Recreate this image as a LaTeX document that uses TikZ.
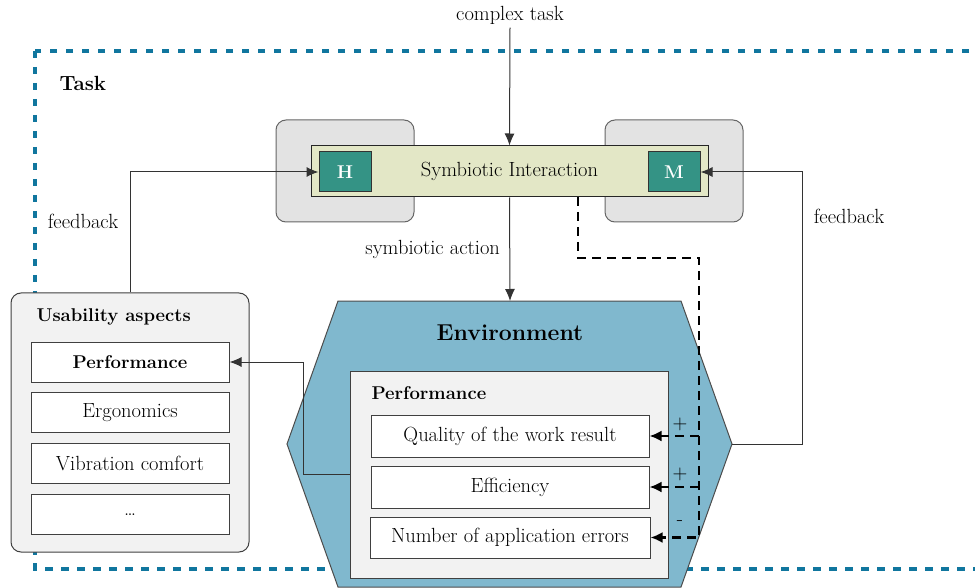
\documentclass[tikz,border=0pt]{standalone}
\usepackage{fontspec}
\usepackage{tikz}
\usetikzlibrary{arrows.meta,calc}
\definecolor{taskblue}{RGB}{16,118,158}
\definecolor{hmteal}{RGB}{52,147,133}
\definecolor{sifill}{RGB}{227,231,198}
\definecolor{envfill}{RGB}{128,184,206}
\definecolor{agentgray}{RGB}{227,227,227}
\definecolor{boxgray}{RGB}{242,242,242}
\tikzset{
  every node/.style={font=\fontsize{20.5}{24}\selectfont},
  head/.style={font=\fontsize{18.5}{22}\selectfont\bfseries},
  conn/.style={line width=1pt,draw=black!80,-{Latex[length=12pt,width=10pt]}},
  fbdash/.style={line width=2.5pt,dash pattern=on 9pt off 6pt,-{Latex[length=12pt,width=11pt]}},
  taskframe/.style={draw=taskblue,line width=3.5pt,dash pattern=on 7.5pt off 8.5pt},
  agentbg/.style={draw=black!60,fill=agentgray,line width=1pt,rounded corners=10pt,minimum width=138pt,minimum height=102pt,inner sep=0pt},
  sibox/.style={draw=black!85,fill=sifill,line width=1pt,minimum width=397pt,minimum height=51pt,inner sep=0pt},
  agent/.style={draw=black!80,fill=hmteal,text=white,line width=1pt,minimum width=52pt,minimum height=40pt,inner sep=0pt,font=\fontsize{18.5}{22}\selectfont\bfseries},
  envshape/.style={draw=black!70,fill=envfill,line width=1pt},
  groupbox/.style={draw=black!75,fill=boxgray,line width=1pt,inner sep=0pt},
  item/.style={draw=black!75,fill=white,line width=1pt,minimum height=42pt,inner sep=0pt}
}
\begin{document}
\begin{tikzpicture}[x=1pt,y=-1pt]
\useasboundingbox (0,0) rectangle (975,588);
%task frame
\draw[taskframe] (35,51) rectangle (1000,569);
\node[anchor=west,font=\fontsize{20.5}{24}\selectfont\bfseries] (task) at (56,83) {Task};
%symbiotic interaction
\node[agentbg] (hbg) at (345,171) {};
\node[agentbg] (mbg) at (674,171) {};
\node[sibox] (si) at (509.5,171.5) {Symbiotic Interaction};
\node[agent] (h) at (345,172) {H};
\node[agent] (m) at (674,172) {M};
%environment
\draw[envshape] (338,301)--(681,301)--(732,444)--(681,587)--(338,587)--(287,444)--cycle;
\coordinate (envN) at (510,301);
\coordinate (envE) at (732,444);
\node[font=\fontsize{23}{27}\selectfont\bfseries] (env) at (510,333) {Environment};
\node[groupbox,minimum width=318pt,minimum height=207pt] (perf) at (509,474.5) {};
\node[head,anchor=west] (perfhead) at (368,393) {Performance};
\node[item,minimum width=278pt] (qual) at (510,436) {Quality of the work result};
\node[item,minimum width=278pt] (eff) at (510,487) {Efficiency};
\node[item,minimum width=280pt,minimum height=41pt] (err) at (510,537.5) {Number of application errors};
%usability aspects
\node[groupbox,rounded corners=10pt,minimum width=238pt,minimum height=259pt] (usab) at (130,422.5) {};
\node[head,anchor=west] (usabhead) at (33,317) {Usability aspects};
\foreach \n/\y/\t in {uperf/362/{\fontsize{18.5}{22}\selectfont\bfseries Performance},uerg/412.5/Ergonomics,uvib/463.5/Vibration comfort,umore/514.5/{\ldots}}{
\node[item,minimum width=198pt,minimum height=40pt] (\n) at (130,\y) {\t};
}
%connectors
\node (ct) at (510,15) {complex task};
\draw[conn] (ct.south)--(si.north);
\draw[conn] (si.south)--(envN) node[midway,left=6pt] (salabel) {symbiotic action};
\node (fbltext) at (83,221) {feedback};
\draw[conn] (usab.north) |- (h.west);
\coordinate (fbr) at (802,172);
\node (fbrtext) at (849,216) {feedback};
\draw[conn] (envE) -| (fbr)--(m.east);
\coordinate (lk) at (303,362);
\draw[conn] (perf.west) -| (lk)--(uperf.east);
%dashed influence
\coordinate (dstart) at (578,197);
\coordinate (dturn) at (699,258);
\draw[fbdash] (dstart) |- (dturn) |- (err.east);
\draw[fbdash] (dturn |- qual.east)--(qual.east);
\draw[fbdash] (dturn |- eff.east)--(eff.east);
\node (qsign) at (680,424) {+};
\node (esign) at (680,474) {+};
\node (rsign) at (680,523) {-};
\end{tikzpicture}
\end{document}
